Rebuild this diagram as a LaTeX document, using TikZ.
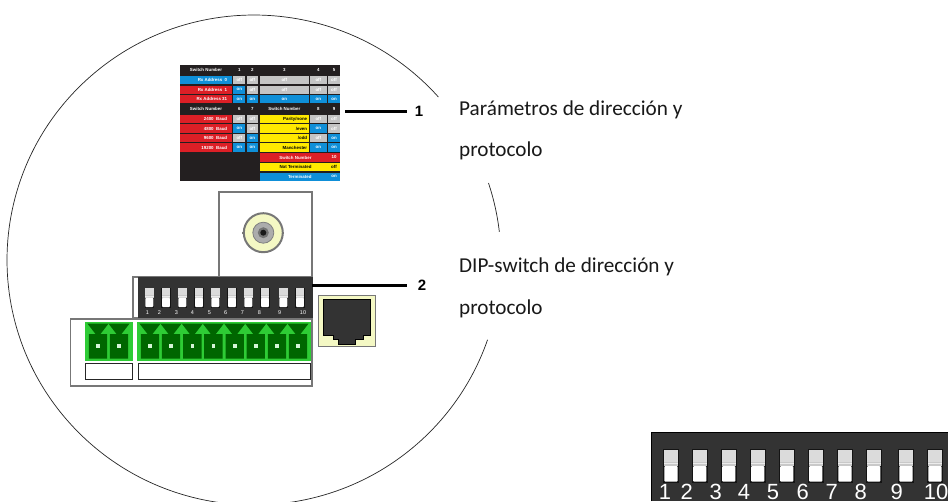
\documentclass[tikz,border=0pt]{standalone}
\usepackage{fontspec}
\setmainfont{Carlito}
\newfontfamily\arialf{Liberation Sans}
\definecolor{panel}{HTML}{333333}
\definecolor{cblue}{HTML}{0F8FD8}
\definecolor{cred}{HTML}{DC1F26}
\definecolor{cyel}{HTML}{FFE900}
\definecolor{cgray}{HTML}{C4C4C4}
\definecolor{cblack}{HTML}{231F20}
\definecolor{lgreen}{HTML}{2ECC35}
\definecolor{dgreen}{HTML}{006600}
\definecolor{pale}{HTML}{F4F8C4}
\definecolor{frame}{HTML}{777777}
\newcounter{cellno}
\newcommand{\cellt}[9]{%
  \fill[#5] (#1,#2) rectangle (#3,#4);
  \stepcounter{cellno}%
  \node[celltext,text=#6,anchor=#7,name=cell\thecellno] at ({#8},{(#2+#4)/2}) {#9};}
\newcommand{\dipsw}[3]{%
  \begin{scope}[shift={(#1,#2)},x=#3pt,y=-#3pt]
    \fill[black!92] (-8,0) rectangle (8,34.3);
    \fill[gray!28] (-7,1) rectangle (7,12.5);
    \fill[gray!42] (-7,12.5) rectangle (7,17);
    \fill[gray!15] (-7,13.5) rectangle (7,14.5);
    \fill[white,rounded corners=1pt] (-6.6,17) rectangle (6.6,32.7);
  \end{scope}}
\tikzset{
  celltext/.style={font=\arialf\bfseries\fontsize{4.4}{5}\selectfont,inner sep=0pt,text=white},
  leader/.style={line width=2.6pt,black},
  num/.style={font=\arialf\bfseries\fontsize{15}{17}\selectfont,inner sep=0pt},
  caption/.style={font=\fontsize{21.2}{24}\selectfont,anchor=base west,inner sep=0pt,text=black!90},
  contour/.style={line width=.7pt,black!85},
  box/.style={draw=frame,line width=1.2pt,fill=white},
  lbox/.style={draw=black!85,line width=.8pt,fill=white}
}
\begin{document}
\begin{tikzpicture}[x=1pt,y=-1pt]
\useasboundingbox (0,0) rectangle (948,501);
\clip (0,0) rectangle (948,501);
\fill[white] (0,0) rectangle (948,501);

% outline circle pieces
\begin{scope}[y=1pt]
  \coordinate (cc) at (254,-260);
  \draw[contour] (cc) ++(41.7:247pt and 245pt) arc[start angle=41.7,end angle=341,x radius=247pt,y radius=245pt];
  \draw[contour] (cc) ++(18.3:247pt and 245pt) arc[start angle=18.3,end angle=6.6,x radius=247pt,y radius=245pt];
\end{scope}

% table
\begin{scope}[shift={(170,60)},x=.33333pt,y=-.33333pt]
  \fill[cblack] (30,15) rectangle (510,362);
  % header 1
  \node[celltext,name=h1a] at (108,30) {Switch Number};
  \node[celltext,name=h1b] at (208,30) {1};
  \node[celltext,name=h1c] at (247,30) {2};
  \node[celltext,name=h1d] at (343,30) {3};
  \node[celltext,name=h1e] at (445,30) {4};
  \node[celltext,name=h1f] at (492,30) {5};
  % rows
  \foreach \ya/\yb/\lc/\lab/\ca/\ta/\cb/\tb/\cc/\tc/\cd/\td/\ce/\te in {
    48/73/cblue/{Rx Address \ 0}/cgray/off/cgray/off/cgray/off/cgray/off/cgray/off,
    77/102/cred/{Rx Address \ 1}/cblue/on/cgray/off/cgray/off/cgray/off/cgray/off,
    106/130/cred/{Rx Address 31}/cblue/on/cblue/on/cblue/on/cblue/on/cblue/on}{
    \cellt{30}{\ya}{187}{\yb}{\lc}{white}{east}{172}{\lab}
    \cellt{190}{\ya}{226}{\yb}{\ca}{white}{center}{208}{\ta}
    \cellt{230}{\ya}{265}{\yb}{\cb}{white}{center}{247}{\tb}
    \cellt{269}{\ya}{417}{\yb}{\cc}{white}{center}{343}{\tc}
    \cellt{421}{\ya}{470}{\yb}{\cd}{white}{center}{445}{\td}
    \cellt{474}{\ya}{510}{\yb}{\ce}{white}{center}{492}{\te}
  }
  % header 2
  \node[celltext,name=h2a] at (108,146) {Switch Number};
  \node[celltext,name=h2b] at (208,146) {6};
  \node[celltext,name=h2c] at (247,146) {7};
  \node[celltext,name=h2d] at (343,146) {Switch Number};
  \node[celltext,name=h2e] at (445,146) {8};
  \node[celltext,name=h2f] at (492,146) {9};
  \foreach \ya/\yb/\lab/\ca/\ta/\cb/\tb/\tc/\cd/\td/\ce/\te in {
    164/190/{2400 \ Baud}/cgray/off/cgray/off/{Parity/none}/cgray/off/cgray/off,
    193/219/{4800 \ Baud}/cblue/on/cgray/off/{/even}/cblue/on/cgray/off,
    222/247/{9600 \ Baud}/cgray/off/cblue/on/{/odd}/cgray/off/cblue/on,
    250/276/{19200 \ Baud}/cblue/on/cblue/on/{Manchester}/cblue/on/cblue/on}{
    \cellt{30}{\ya}{187}{\yb}{cred}{white}{east}{172}{\lab}
    \cellt{190}{\ya}{226}{\yb}{\ca}{white}{center}{208}{\ta}
    \cellt{230}{\ya}{265}{\yb}{\cb}{white}{center}{247}{\tb}
    \cellt{269}{\ya}{417}{\yb}{cyel}{black}{east}{412}{\tc}
    \cellt{421}{\ya}{470}{\yb}{\cd}{white}{center}{445}{\td}
    \cellt{474}{\ya}{510}{\yb}{\ce}{white}{center}{492}{\te}
  }
  % bottom block
  \cellt{269}{280}{510}{305}{cred}{white}{east}{425}{Switch Number}
  \cellt{269}{308}{510}{333}{cyel}{black}{east}{425}{Not Terminated}
  \cellt{269}{338}{510}{362}{cblue}{white}{east}{425}{Terminated}
  \node[celltext,name=b1] at (492,292) {10};
  \node[celltext,text=black,name=b2] at (492,320) {off};
  \node[celltext,name=b3] at (492,350) {on};
\end{scope}

% BNC box
\draw[box] (219,192) rectangle (312,277);
\fill[frame] (263.3,232.7) ++(-21,-1.2) rectangle ++(42,2.4);
\draw[frame,fill=pale,line width=2pt] (263.3,232.7) circle[radius=19.5pt];
\draw[gray,fill=gray!65,line width=.8pt] (263.3,232.7) circle[radius=10.5pt];
\fill[gray!90!black] (263.3,232.7) circle[radius=5.5pt];
\fill[black!90] (263.3,232.7) circle[radius=3pt];

% connector frame
\draw[box] (70.7,319) rectangle (312,386);

% dip switch block
\draw[box] (133,277) rectangle (312,318);
\fill[panel] (138,277.5) rectangle (312,318);
\draw[black!80,line width=.7pt] (138,277.5) -- (312,277.5) -- (312,318);
\foreach \c in {149.3,166,182.3,199,215.3,232,248.3,265,283.3,300}{\dipsw{\c}{287.5}{.6}}
\foreach \l/\x in {1/147.3,2/159.3,3/176.3,4/192.3,5/209.3,6/225.7,7/242.3,8/259.3,9/279.7,10/303}{
  \node[font=\arialf\fontsize{5.5}{6}\selectfont,text=white,inner sep=0pt,name=sl\l] at (\x,312.7) {\l};}

% green terminals
\fill[lgreen] (85,322.3) rectangle (132.7,360.7);
\fill[lgreen] (137.3,322.3) rectangle (310.7,360.7);
\begin{scope}
\clip (85,323.5) rectangle (131.5,359.5) (138.5,323.5) rectangle (309.5,359.5);
\foreach \c in {98,119,150,171,192.3,213.3,234.7,255.7,277,298}{
  \fill[dgreen] (\c-10.6,323.5) -- (\c+10.6,323.5) -- (\c+2.5,334) -- (\c+9.2,334) -- (\c+9.2,358.5) -- (\c-9.2,358.5) -- (\c-9.2,334) -- (\c-2.5,334) -- cycle;
  \fill[white!80!lgreen] (\c-1.8,344.3) rectangle (\c+1.8,347.9);
}
\end{scope}
\draw[lbox] (85,363.7) rectangle (132.7,379);
\draw[lbox] (138.3,363.7) rectangle (310.7,379);

% RJ45
\draw[frame,fill=pale,line width=1pt] (318.3,295) rectangle (375,346);
\draw[black,fill=panel,line width=.9pt] (323,299) -- (370,299) -- (370,335) -- (363,335) -- (363,339.3) -- (355,339.3) -- (355,344) -- (338,344) -- (338,339.3) -- (333,339.3) -- (333,335) -- (323,335) -- cycle;

% leaders and numbers
\node[num,name=n1] at (419,111) {1};
\node[num,name=n2] at (422,285.5) {2};
\coordinate (t1) at (345,111.7);
\coordinate (t2) at (312,285.7);
\coordinate (e1) at (407,111.7);
\coordinate (e2) at (407,285.7);
\draw[leader] (t1) -- (e1);
\draw[leader] (t2) -- (e2);

% captions
\node[caption,name=cap1a] at (459,115) {Parámetros de dirección y};
\node[caption,name=cap1b] at (459,156.5) {protocolo};
\node[caption,name=cap2a] at (459,272.5) {DIP-switch de dirección y};
\node[caption,name=cap2b] at (459,314) {protocolo};

% enlarged dip switch
\fill[panel] (651,432) rectangle (948,501);
\draw[black,line width=.8pt] (651,501) -- (651,432) -- (948,432);
\foreach \c in {671,699.7,728.7,757.7,786.7,815.7,845,873.7,906,935}{\dipsw{\c}{449}{1}}
\foreach \l/\x in {1/665,2/686.7,3/715.7,4/744,5/773,6/802.7,7/831.7,8/860.7,9/896.7,10/936}{
  \node[font=\arialf\fontsize{22}{24}\selectfont,text=white,inner sep=0pt,anchor=base,name=bl\l] at (\x,499) {\l};}
\end{tikzpicture}
\end{document}
